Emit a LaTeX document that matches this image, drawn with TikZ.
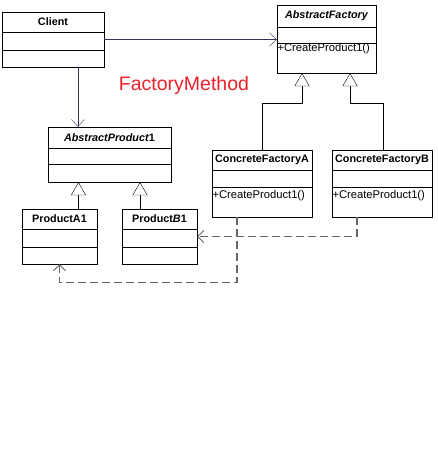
\documentclass[tikz,border=0pt]{standalone}
\usepackage{fontspec}
\setmainfont{Liberation Sans}
\usetikzlibrary{arrows.meta, positioning}

\definecolor{assoccol}{HTML}{33335E}
\definecolor{dashcol}{HTML}{666666}
\definecolor{titlered}{HTML}{F0202A}

\begin{document}
\begin{tikzpicture}[x=1pt,y=-1pt,
        cls/.style={draw,rectangle,inner sep=0pt},
        sep/.style={draw,thin},
        ttl/.style={font=\fontsize{10.8}{12}\selectfont\bfseries},
        attl/.style={font=\fontsize{10.8}{12}\selectfont\bfseries\itshape},
        mth/.style={font=\fontsize{11.2}{12}\selectfont,anchor=west,inner sep=0.5pt},
        assoc/.style={draw=assoccol,-{Straight Barb[length=7pt,width=13pt]}},
        inh/.style={draw,-{Triangle[open,length=13pt,width=15pt,fill=white]}},
        dep/.style={draw=dashcol,dashed,dash pattern=on 8pt off 4pt,line width=1.1pt,
            -{Straight Barb[length=6pt,width=12pt,line width=0.8pt]}}]
        \useasboundingbox (0,0) rectangle (437,471);

        % classes
        \node[cls,minimum width=102,minimum height=55] (client) at (53,39.5) {};
        \node[ttl] (client-t) at ([yshift=-10]client.north) {Client};
        \draw[sep] ([yshift=-20]client.north west) -- ([yshift=-20]client.north east);
        \draw[sep] ([yshift=-38]client.north west) -- ([yshift=-38]client.north east);

        \node[cls,minimum width=99,minimum height=68] (afac) at (326.5,39) {};
        \node[attl] (afac-t) at ([yshift=-11]afac.north) {AbstractFactory};
        \draw[sep] ([yshift=-22]afac.north west) -- ([yshift=-22]afac.north east);
        \draw[sep] ([yshift=-38]afac.north west) -- ([yshift=-38]afac.north east);
        \node[mth] (afac-m) at ([yshift=-44]afac.north west) {+CreateProduct1()};

        \node[cls,minimum width=123,minimum height=55] (aprod) at (109.5,154.5) {};
        \node[attl] (aprod-t) at ([yshift=-10.5]aprod.north) {AbstractProduct\textup{1}};
        \draw[sep] ([yshift=-21]aprod.north west) -- ([yshift=-21]aprod.north east);
        \draw[sep] ([yshift=-37]aprod.north west) -- ([yshift=-37]aprod.north east);

        \node[cls,minimum width=75,minimum height=55] (pa1) at (59.5,236.5) {};
        \node[ttl] (pa1-t) at ([yshift=-10]pa1.north) {ProductA1};
        \draw[sep] ([yshift=-20]pa1.north west) -- ([yshift=-20]pa1.north east);
        \draw[sep] ([yshift=-38]pa1.north west) -- ([yshift=-38]pa1.north east);

        \node[cls,minimum width=75,minimum height=55] (pb1) at (159.5,236.5) {};
        \node[ttl] (pb1-t) at ([yshift=-10]pb1.north) {Product\textit{B}1};
        \draw[sep] ([yshift=-20]pb1.north west) -- ([yshift=-20]pb1.north east);
        \draw[sep] ([yshift=-38]pb1.north west) -- ([yshift=-38]pb1.north east);

        \node[cls,minimum width=100,minimum height=67] (cfa) at (262,183.5) {};
        \node[ttl] (cfa-t) at ([yshift=-10]cfa.north) {ConcreteFactoryA};
        \draw[sep] ([yshift=-20]cfa.north west) -- ([yshift=-20]cfa.north east);
        \draw[sep] ([yshift=-37]cfa.north west) -- ([yshift=-37]cfa.north east);
        \node[mth] (cfa-m) at ([yshift=-46]cfa.north west) {+CreateProduct1()};

        \node[cls,minimum width=100,minimum height=67] (cfb) at (382,183.5) {};
        \node[ttl] (cfb-t) at ([yshift=-10]cfb.north) {ConcreteFactoryB};
        \draw[sep] ([yshift=-20]cfb.north west) -- ([yshift=-20]cfb.north east);
        \draw[sep] ([yshift=-37]cfb.north west) -- ([yshift=-37]cfb.north east);
        \node[mth] (cfb-m) at ([yshift=-46]cfb.north west) {+CreateProduct1()};

        \node[text=titlered,font=\fontsize{19.5}{22}\selectfont] (title) at (184,85) {FactoryMethod};

        % connectors
        \draw[assoc] (client.east) -- (client.east -| afac.west);
        \draw[assoc] ([xshift=25]client.south) -- ([xshift=25]client.south |- aprod.north);

        \draw[inh] ([xshift=19]pa1.north) -- ([xshift=19]pa1.north |- aprod.south);
        \draw[inh] ([xshift=-19.5]pb1.north) -- ([xshift=-19.5]pb1.north |- aprod.south);
        \draw[inh] (cfa.north) -- ++(0,-47) -| ([xshift=-24.5]afac.south);
        \draw[inh] ([xshift=1]cfb.north) -- ++(0,-47) -| ([xshift=23.5]afac.south);

        \draw[dep] ([xshift=-25]cfa.south) -- ++(0,65) -| (pa1.south);
        \draw[dep] ([xshift=-25]cfb.south) |- (pb1.east);
    \end{tikzpicture}
\end{document}
